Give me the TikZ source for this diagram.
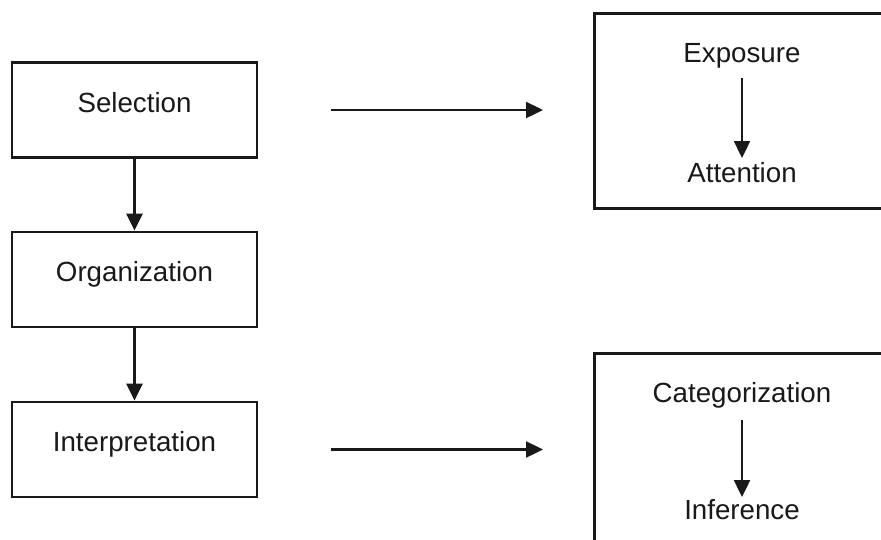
\documentclass[tikz,border=0pt]{standalone}
\usepackage{fontspec}
\setmainfont{Liberation Sans}
\usetikzlibrary{arrows.meta}
\begin{document}
\begin{tikzpicture}[x=1pt,y=-1pt,
  every node/.style={font=\fontsize{27.7}{33}\selectfont, text=black!90},
  stage/.style={draw=black!90, line width=2.8pt, minimum width=245pt, minimum height=95pt,
    inner sep=0pt, text height=20pt, text depth=16pt},
  panel/.style={draw=black!90, line width=2.8pt, inner sep=0pt},
  label/.style={anchor=base, inner sep=0pt},
  flow/.style={draw=black!90, line width=2.4pt, -{Triangle[length=17pt,width=16pt]}}]
\clip (0,0) rectangle (881,539);
\fill[white] (0,0) rectangle (881,539);

% left column of stages
\node[stage] (sel) at (134.5,110) {Selection};
\node[stage] (org) at (134.5,279.5) {Organization};
\node[stage] (int) at (134.5,449.5) {Interpretation};

% right-hand panels, running past the page edge
\node[panel, minimum width=320pt, minimum height=195pt, anchor=north west] (top) at (593,12) {};
\node[panel, minimum width=320pt, minimum height=220pt, anchor=north west] (bot) at (593,352) {};

\node[label] (exp) at (742,62) {Exposure};
\node[label] (att) at (742,182) {Attention};
\node[label] (cat) at (742,402) {Categorization};
\node[label] (inf) at (742,519) {Inference};

% vertical steps
\draw[flow] (sel.south) -- (org.north);
\draw[flow] (org.south) -- (int.north);
\draw[flow, shorten <=16pt, shorten >=24pt] (exp.base) -- (att.base);
\draw[flow, shorten <=18pt, shorten >=22pt] (cat.base) -- (inf.base);

% horizontal links
\coordinate (a1) at (sel.east -| top.west);
\coordinate (a2) at (int.east -| bot.west);
\draw[flow, shorten <=73pt, shorten >=50pt] (sel.east) -- (a1);
\draw[flow, shorten <=73pt, shorten >=50pt] (int.east) -- (a2);
\end{tikzpicture}
\end{document}
